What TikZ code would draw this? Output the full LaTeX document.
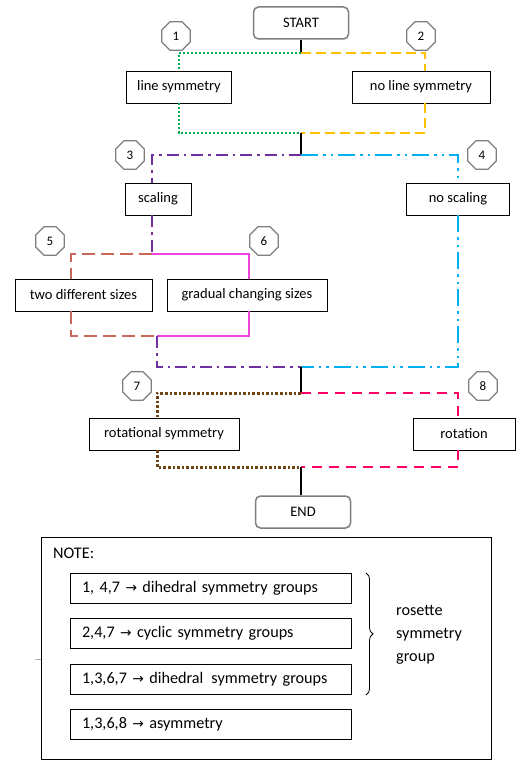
\documentclass[tikz,border=0pt]{standalone}
\usepackage{fontspec}
\setmainfont{Carlito}
\newfontfamily\arrowfont{DejaVu Sans}
\usetikzlibrary{shapes.geometric,decorations.pathreplacing}
\definecolor{cgreen}{HTML}{00B050}
\definecolor{cyellow}{HTML}{FFC000}
\definecolor{cpurple}{HTML}{7030A0}
\definecolor{ccyan}{HTML}{00B0F0}
\definecolor{csalmon}{HTML}{C8685A}
\definecolor{cmagenta}{HTML}{EE44DD}
\definecolor{cbrown}{HTML}{6E4514}
\definecolor{cpink}{HTML}{FF0066}
\definecolor{cgray}{HTML}{7F7F7F}
\newcommand{\arr}{{\arrowfont\scalebox{0.85}{→}}}
\tikzset{
  box/.style={draw=black, line width=0.9pt, fill=white, rectangle, minimum height=32, inner sep=3pt, font=\fontsize{14.5}{17}\selectfont},
  term/.style={draw=cgray, line width=1.5pt, fill=white, rounded corners=5pt, minimum width=95, minimum height=32, font=\fontsize{14.5}{17}\selectfont},
  octa/.style={draw=cgray, line width=1.3pt, fill=white, regular polygon, regular polygon sides=8, minimum size=31, inner sep=0pt, font=\fontsize{13}{15}\selectfont},
  notebox/.style={draw=black, line width=0.9pt, rectangle, minimum width=281, minimum height=30, text width=257, inner xsep=12pt, align=left, font=\fontsize{16.2}{19}\selectfont},
  notetxt/.style={font=\fontsize{16.2}{23}\selectfont},
  blk/.style={draw=black, line width=1.8pt},
  grn/.style={draw=cgreen, line width=2pt, dash pattern=on 1.6pt off 2.4pt},
  yel/.style={draw=cyellow, line width=2pt, dash pattern=on 10pt off 5pt},
  pur/.style={draw=cpurple, line width=2pt, dash pattern=on 12pt off 5pt on 2.5pt off 5pt},
  cya/.style={draw=ccyan, line width=2pt, dash pattern=on 17pt off 5pt on 2.5pt off 5pt on 2.5pt off 5pt},
  sal/.style={draw=csalmon, line width=2pt, dash pattern=on 13pt off 6pt},
  mag/.style={draw=cmagenta, line width=2pt},
  brn/.style={draw=cbrown, line width=3pt, dash pattern=on 2.6pt off 2pt},
  pnk/.style={draw=cpink, line width=2.4pt, dash pattern=on 10pt off 7pt},
}
\begin{document}
\begin{tikzpicture}[x=1pt,y=-1pt]
\useasboundingbox (0,0) rectangle (517,760);

% junction points
\coordinate (j1) at (301,53);
\coordinate (j2) at (301,133);
\coordinate (j3) at (301,155);
\coordinate (j4) at (152,254);
\coordinate (j5) at (157,336);
\coordinate (j7) at (301,367);
\coordinate (j8) at (301,393);
\coordinate (j9) at (301,467);

% nodes
\node[term] (start) at (301,23) {START};
\node[box, minimum width=105] (ls) at (179,87) {line symmetry};
\node[box, minimum width=138] (nls) at (421,87) {no line symmetry};
\node[box, minimum width=66] (sc) at (158,199) {scaling};
\node[box, minimum width=103] (nsc) at (458,199) {no scaling};
\node[box, minimum width=137] (two) at (83.5,295) {two different sizes};
\node[box, minimum width=160] (grad) at (247,295) {gradual changing sizes};
\node[box, minimum width=150] (rot) at (164,434) {rotational symmetry};
\node[box, minimum width=102] (rt) at (464,434) {rotation};
\node[term] (end) at (303,512) {END};

% connectors
\draw[blk] (start.south) -- (j1);
\draw[grn] (j1) -| (ls.north);
\draw[grn] (ls.south) |- (j2);
\draw[yel] (j1) -| ([xshift=4pt]nls.north);
\draw[yel] ([xshift=4pt]nls.south) |- (j2);
\draw[blk] (j2) -- (j3);
\draw[pur] (j3) -| ([xshift=-6pt]sc.north);
\draw[pur] ([xshift=-6pt]sc.south) -- (j4);
\draw[cya] (j3) -| (nsc.north);
\draw[cya] (nsc.south) |- (j7);
\draw[sal] (j4) -| ([xshift=-12.5pt]two.north);
\draw[sal] ([xshift=-12.5pt]two.south) |- (j5);
\draw[mag] (j4) -| ([xshift=2pt]grad.north);
\draw[mag] ([xshift=2pt]grad.south) |- (j5);
\draw[pur] (j5) |- (j7);
\draw[blk] (j7) -- (j8);
\draw[brn] (j8) -| ([xshift=-7pt]rot.north);
\draw[brn] ([xshift=-7pt]rot.south) |- (j9);
\draw[pnk] (j8) -| ([xshift=-6pt]rt.north);
\draw[pnk] ([xshift=-6pt]rt.south) |- (j9);
\draw[blk] (j9) -- ([xshift=-2pt]end.north);

% octagons
\node[octa] (o1) at (176,36) {1};
\node[octa] (o2) at (421,36) {2};
\node[octa] (o3) at (130,155) {3};
\node[octa] (o4) at (482,155) {4};
\node[octa] (o5) at (50,241) {5};
\node[octa] (o6) at (264,241) {6};
\node[octa] (o7) at (137,386) {7};
\node[octa] (o8) at (483,386) {8};

% note area
\node[draw=black, line width=0.9pt, rectangle, minimum width=450, minimum height=222, inner sep=0pt] (note) at (266,648) {};
\node[notetxt, anchor=west, inner sep=0pt] (notelbl) at (53,553) {NOTE:};
\node[notebox] (n1) at (210.5,588) {1, 4,7 \arr{} dihedral symmetry groups};
\node[notebox] (n2) at (210.5,633) {2,4,7 \arr{} cyclic symmetry groups};
\node[notebox] (n3) at (210.5,679) {1,3,6,7 \arr{} dihedral\, symmetry groups};
\node[notebox] (n4) at (210.5,724) {1,3,6,8 \arr{} asymmetry};
\coordinate (bt) at (366,573);
\coordinate (bb) at (366,695);
\draw[line width=0.8pt, decorate, decoration={brace, amplitude=7pt}] (bt) -- (bb);
\node[notetxt, anchor=west, align=left, inner sep=0pt] (ros) at (396,635) {rosette\\symmetry\\group};
\coordinate (t1) at (35,659);
\coordinate (t2) at (41,659);
\draw[gray!60, line width=1pt] (t1) -- (t2);
\end{tikzpicture}
\end{document}
